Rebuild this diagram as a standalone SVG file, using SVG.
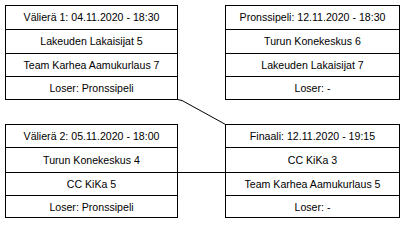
<svg xmlns="http://www.w3.org/2000/svg" width="404" height="225" viewBox="0 0 404 225">
<style>
.box{fill:#fff;stroke:#000;stroke-width:1}
.sep{stroke:#000;stroke-width:1}
.conn{stroke:#000;stroke-width:1;fill:none}
text{font-family:"Liberation Sans",Arial,sans-serif;font-size:10.6px;fill:#000;text-anchor:middle}
</style>
<rect width="404" height="225" fill="#fff"/>
<g id="connectors">
<polyline class="conn" points="177.5,99.5 182,100.5 222,122.5 225.5,124.5"/>
<line class="conn" x1="177.5" y1="172.5" x2="225.5" y2="172.5"/>
</g>
<g id="semi1">
<rect class="box" x="5.5" y="5.5" width="172" height="94"/>
<line class="sep" x1="5.5" y1="29.5" x2="177.5" y2="29.5"/>
<line class="sep" x1="5.5" y1="53.5" x2="177.5" y2="53.5"/>
<line class="sep" x1="5.5" y1="76.5" x2="177.5" y2="76.5"/>
<text x="91.5" y="21">Välierä 1: 04.11.2020 - 18:30</text>
<text x="91.5" y="45">Lakeuden Lakaisijat 5</text>
<text x="91.5" y="68.5">Team Karhea Aamukurlaus 7</text>
<text x="91.5" y="92">Loser: Pronssipeli</text>
</g>
<g id="bronze">
<rect class="box" x="225.5" y="5.5" width="174" height="94"/>
<line class="sep" x1="225.5" y1="29.5" x2="399.5" y2="29.5"/>
<line class="sep" x1="225.5" y1="53.5" x2="399.5" y2="53.5"/>
<line class="sep" x1="225.5" y1="76.5" x2="399.5" y2="76.5"/>
<text x="312.5" y="21">Pronssipeli: 12.11.2020 - 18:30</text>
<text x="312.5" y="45">Turun Konekeskus 6</text>
<text x="312.5" y="68.5">Lakeuden Lakaisijat 7</text>
<text x="312.5" y="92">Loser: -</text>
</g>
<g id="semi2">
<rect class="box" x="5.5" y="124.5" width="172" height="93"/>
<line class="sep" x1="5.5" y1="147.5" x2="177.5" y2="147.5"/>
<line class="sep" x1="5.5" y1="172.5" x2="177.5" y2="172.5"/>
<line class="sep" x1="5.5" y1="195.5" x2="177.5" y2="195.5"/>
<text x="91.5" y="140">Välierä 2: 05.11.2020 - 18:00</text>
<text x="91.5" y="164">Turun Konekeskus 4</text>
<text x="91.5" y="188">CC KiKa 5</text>
<text x="91.5" y="211">Loser: Pronssipeli</text>
</g>
<g id="final">
<rect class="box" x="225.5" y="124.5" width="174" height="93"/>
<line class="sep" x1="225.5" y1="147.5" x2="399.5" y2="147.5"/>
<line class="sep" x1="225.5" y1="172.5" x2="399.5" y2="172.5"/>
<line class="sep" x1="225.5" y1="195.5" x2="399.5" y2="195.5"/>
<text x="312.5" y="140">Finaali: 12.11.2020 - 19:15</text>
<text x="312.5" y="164">CC KiKa 3</text>
<text x="312.5" y="188">Team Karhea Aamukurlaus 5</text>
<text x="312.5" y="211">Loser: -</text>
</g>
</svg>
